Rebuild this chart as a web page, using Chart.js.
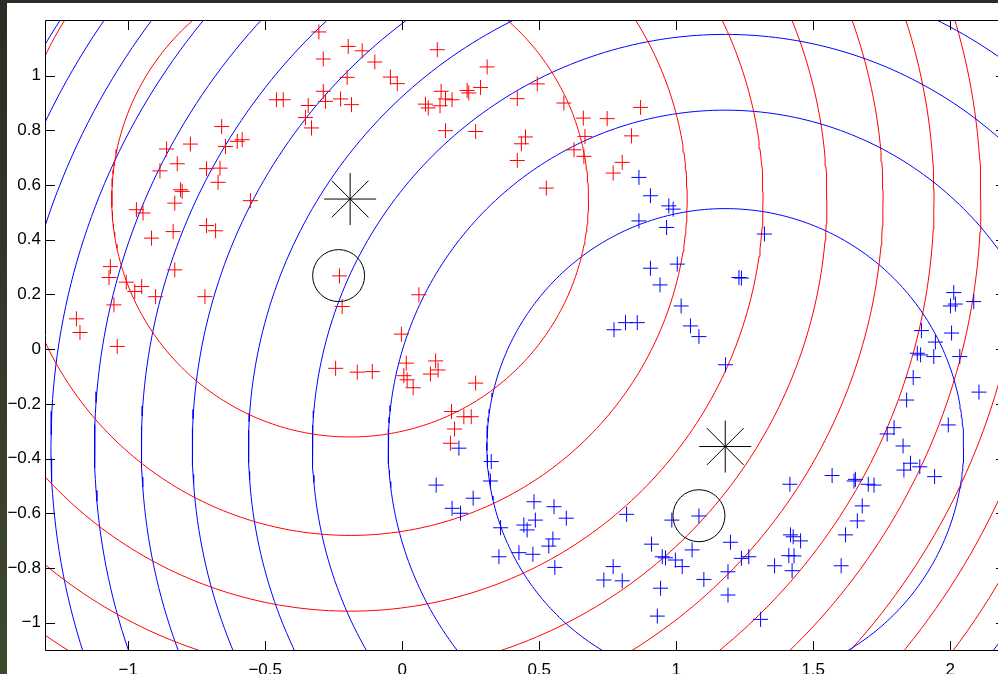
<!DOCTYPE html>
<html>
<head>
<meta charset="utf-8">
<script src="https://cdn.jsdelivr.net/npm/chart.js@4/dist/chart.umd.min.js"></script>
<style>
    html, body {
        margin: 0;
        padding: 0;
        width: 998px;
        height: 674px;
        overflow: hidden;
        background: linear-gradient(#2c2c27, #34362a 40%, #3e4a2c);
    }
    #wrap {
        position: absolute;
        left: 7px;
        top: 3px;
        width: 1003px;
        height: 671px;
        background: #fff;
    }
</style>
</head>
<body>
<div id="wrap"><canvas id="myChart" width="1003" height="671"></canvas></div>
<script>
// tick labels
let xTicks = [-1, -0.5, 0, 0.5, 1, 1.5, 2];
let yTicks = [-1, -0.8, -0.6, -0.4, -0.2, 0, 0.2, 0.4, 0.6, 0.8, 1];

// class 1 samples (red +)
let redPoints = [
    [-0.304, 1.160], [-0.197, 1.107], [-0.146, 1.091], [-0.288, 1.061], [-0.201, 0.994],
    [-0.288, 0.943], [-0.280, 0.906], [-0.225, 0.915], [-0.185, 0.894], [-0.459, 0.912],
    [-0.434, 0.912], [-0.343, 0.891], [-0.353, 0.847], [-0.331, 0.809], [-0.659, 0.814],
    [-0.773, 0.750], [-0.860, 0.732], [-0.645, 0.741], [-0.602, 0.760], [-0.584, 0.766],
    [-0.821, 0.678], [-0.884, 0.652], [-0.714, 0.660], [-0.665, 0.662], [-0.672, 0.610],
    [-0.809, 0.583], [-0.803, 0.577], [-0.830, 0.534], [-0.554, 0.543], [-0.970, 0.510],
    [-0.946, 0.498], [-0.714, 0.452], [-0.681, 0.433], [-0.836, 0.430], [-0.915, 0.406],
    [-1.065, 0.302], [-1.070, 0.262], [-1.007, 0.245], [-0.951, 0.229], [-0.976, 0.211],
    [-0.900, 0.192], [-0.830, 0.290], [-0.720, 0.192], [-1.052, 0.162], [-1.189, 0.111],
    [-1.176, 0.061], [-0.229, 0.268], [-0.219, 0.156], [-1.040, 0.010], [-0.243, -0.070],
    [-0.164, -0.084],
    [0.128, 1.095], [-0.100, 1.050], [0.310, 1.032], [-0.043, 0.995], [-0.018, 0.971],
    [0.085, 0.896], [0.095, 0.882], [0.142, 0.943], [0.158, 0.915], [0.182, 0.912],
    [0.138, 0.890], [0.237, 0.946], [0.243, 0.937], [0.286, 0.957], [0.158, 0.799],
    [0.268, 0.796], [0.493, 0.970], [0.420, 0.916], [0.590, 0.900], [0.661, 0.845],
    [0.748, 0.843], [0.870, 0.884], [0.837, 0.780], [0.667, 0.778], [0.450, 0.776],
    [0.435, 0.751], [0.627, 0.729], [0.663, 0.705], [0.420, 0.690], [0.803, 0.683],
    [0.770, 0.644], [0.526, 0.589], [0.061, 0.199], [-0.003, 0.055],
    [-0.109, -0.082], [0.015, -0.051], [0.122, -0.043], [0.131, -0.076], [0.103, -0.091],
    [0.006, -0.097], [0.018, -0.112], [0.040, -0.141], [0.268, -0.124], [0.180, -0.228],
    [0.225, -0.247], [0.252, -0.247], [0.191, -0.292], [0.176, -0.344]
];

// class 2 samples (blue +)
let bluePoints = [
    [0.864, 0.628], [0.906, 0.561], [0.973, 0.524], [0.989, 0.512], [0.864, 0.469],
    [0.965, 0.445], [1.004, 0.311], [0.906, 0.296], [0.941, 0.235], [1.018, 0.158],
    [0.773, 0.071], [0.815, 0.097], [0.858, 0.097],
    [1.322, 0.421], [1.238, 0.260], [1.229, 0.262], [1.052, 0.085], [1.083, 0.046],
    [2.013, 0.207], [2.001, 0.158], [2.019, 0.165], [2.086, 0.174], [1.895, 0.068],
    [2.005, 0.059],
    [0.207, -0.362], [0.325, -0.411], [0.322, -0.482], [0.124, -0.497], [0.259, -0.545],
    [0.182, -0.582], [0.213, -0.600], [0.481, -0.558], [0.554, -0.576], [0.599, -0.618],
    [0.486, -0.625], [0.444, -0.643], [0.456, -0.661], [0.359, -0.653], [0.550, -0.694],
    [0.535, -0.720], [0.353, -0.759], [0.426, -0.744], [0.477, -0.750], [0.557, -0.798],
    [0.819, -0.604], [0.984, -0.625], [0.910, -0.713], [0.949, -0.759], [0.961, -0.763],
    [0.997, -0.771], [1.022, -0.795], [0.770, -0.795], [0.736, -0.844], [0.803, -0.847],
    [0.943, -0.874], [0.931, -0.976],
    [1.180, -0.057], [1.415, -0.494], [1.083, -0.610], [1.058, -0.734], [1.198, -0.706],
    [1.238, -0.765], [1.265, -0.759], [1.189, -0.814], [1.101, -0.842], [1.189, -0.899],
    [1.308, -0.988], [1.359, -0.792], [1.417, -0.679], [1.427, -0.686], [1.454, -0.701],
    [1.411, -0.755], [1.430, -0.756], [1.423, -0.810], [1.569, -0.462], [1.649, -0.482],
    [1.654, -0.476], [1.701, -0.494], [1.722, -0.497], [1.679, -0.573], [1.661, -0.628],
    [1.618, -0.679], [1.602, -0.792], [1.770, -0.310], [1.795, -0.287], [1.828, -0.354],
    [1.831, -0.442], [1.855, -0.417], [1.889, -0.430], [1.943, -0.466], [1.993, -0.277],
    [1.841, -0.186], [1.865, -0.104], [1.880, -0.015], [1.892, -0.021], [1.940, -0.027],
    [1.946, 0.026], [2.035, -0.027], [2.105, -0.157]
];

// class means (asterisks) and the two circled samples
let means = [[-0.190, 0.549], [1.179, -0.356]];
let circled = [[-0.232, 0.269], [1.083, -0.609]];

// contour radii around each mean
let redCentre = [-0.190, 0.549];
let blueCentre = [1.179, -0.356];
let radii = [0.870, 1.230, 1.507, 1.740, 1.945, 2.131, 2.302, 2.461, 2.610, 2.751, 2.885, 3.014, 3.137];

function circle(c, r) {
    let pts = [];
    for (let i = 0; i <= 360; i++) {
        let t = i * Math.PI / 180;
        pts.push({x: c[0] + r * Math.cos(t), y: c[1] + r * Math.sin(t)});
    }
    return pts;
}

function toXY(list) {
    return list.map(p => ({x: p[0], y: p[1]}));
}

function minus(v) {
    return String(v).replace('-', '\u2212');
}

let datasets = [
    {data: toXY(means), pointStyle: 'star', pointRadius: 26, borderColor: '#000', borderWidth: 1, showLine: false},
    {data: toXY(circled), pointStyle: 'circle', pointRadius: 26, borderColor: '#000', backgroundColor: 'rgba(0,0,0,0)', borderWidth: 1, showLine: false},
    {data: toXY(redPoints), pointStyle: 'cross', pointRadius: 7.5, borderColor: '#ff0000', borderWidth: 1, showLine: false},
    {data: toXY(bluePoints), pointStyle: 'cross', pointRadius: 7.5, borderColor: '#0000ff', borderWidth: 1, showLine: false}
];

radii.forEach(r => {
    datasets.push({data: circle(redCentre, r), showLine: true, pointRadius: 0, borderColor: '#ff0000', borderWidth: 1, fill: false});
    datasets.push({data: circle(blueCentre, r), showLine: true, pointRadius: 0, borderColor: '#0000ff', borderWidth: 1, fill: false});
});

let axesBox = {
    id: 'axesBox',
    afterDraw(chart) {
        let ctx = chart.ctx;
        let a = chart.chartArea;
        let x = chart.scales.x;
        let y = chart.scales.y;
        ctx.save();
        ctx.strokeStyle = '#000';
        ctx.lineWidth = 1;
        ctx.beginPath();
        ctx.rect(Math.round(a.left) - 0.5, Math.round(a.top) - 0.5, Math.round(a.right - a.left) + 1, Math.round(a.bottom - a.top) + 1);
        xTicks.forEach(v => {
            let px = Math.round(x.getPixelForValue(v)) + 0.5;
            ctx.moveTo(px, a.bottom);
            ctx.lineTo(px, a.bottom - 9);
            ctx.moveTo(px, a.top);
            ctx.lineTo(px, a.top + 9);
        });
        yTicks.forEach(v => {
            let py = Math.round(y.getPixelForValue(v)) + 0.5;
            ctx.moveTo(a.left, py);
            ctx.lineTo(a.left + 9, py);
            ctx.moveTo(a.right, py);
            ctx.lineTo(a.right - 9, py);
        });
        ctx.stroke();
        ctx.restore();
    }
};

let tickFont = {family: '"Liberation Sans", Arial, sans-serif', size: 17};

new Chart(document.getElementById('myChart'), {
    type: 'scatter',
    data: {datasets},
    options: {
        responsive: false,
        animation: false,
        events: [],
        layout: {autoPadding: false, padding: {top: 18, right: 5, left: 0, bottom: 0}},
        plugins: {legend: {display: false}, tooltip: {enabled: false}},
        scales: {
            x: {
                type: 'linear',
                min: -1.3,
                max: 2.2,
                afterBuildTicks: s => { s.ticks = xTicks.map(v => ({value: v})); },
                afterFit: s => {
                    s.height = 24;
                    s.paddingLeft = 0;
                    s.paddingRight = 0;
                },
                grid: {display: false, drawTicks: false},
                border: {display: false},
                ticks: {color: '#000', font: tickFont, padding: 10, maxRotation: 0, autoSkip: false, callback: v => minus(v)}
            },
            y: {
                type: 'linear',
                min: -1.1,
                max: 1.2,
                afterBuildTicks: s => { s.ticks = yTicks.map(v => ({value: v})); },
                afterFit: s => {
                    s.width = 39;
                    s.paddingTop = 0;
                    s.paddingBottom = 0;
                },
                grid: {display: false, drawTicks: false},
                border: {display: false},
                ticks: {color: '#000', font: tickFont, padding: 5, autoSkip: false, callback: v => minus(v)}
            }
        }
    },
    plugins: [axesBox]
});
</script>
</body>
</html>
